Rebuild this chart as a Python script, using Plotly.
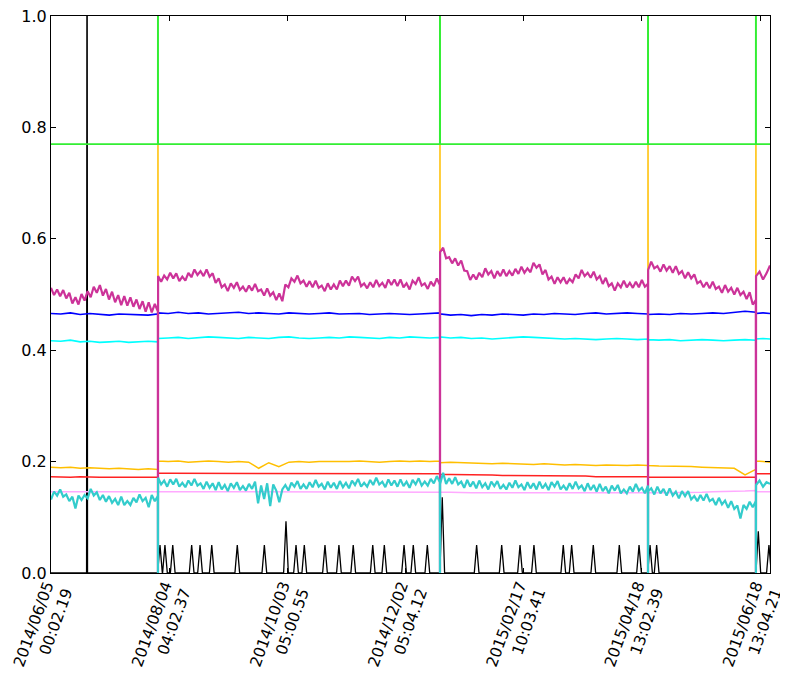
import numpy as np
import plotly.graph_objects as go

# ---------------- data (sample index axis) ----------------
SEG_BOUNDS = [(0, 904), (906, 3290), (3292, 5050), (5052, 5963), (5965, 6083)]
RESET_IDX = [905, 3291, 5051, 5964]

X_TICK_IDX = [0, 1000, 2000, 3000, 4000, 5000, 6000]
X_TICK_TEXT = ["2014/06/05<br>00:02.19", "2014/08/04<br>04:02.37", "2014/10/03<br>05:00.55",
               "2014/12/02<br>05:04.12", "2015/02/17<br>10:03.41", "2015/04/18<br>13:02.39",
               "2015/06/18<br>13:04.21"]
Y_TICKS = [0.0, 0.2, 0.4, 0.6, 0.8, 1.0]

MAGENTA_S0 = [.512, .499, .509, .497, .508, .493, .503, .484, .495, .482, .501, .489, .506, .495, .514, .503,
              .517, .498, .510, .491, .505, .486, .499, .481, .497, .480, .495, .478, .491, .474, .488, .469,
              .486, .468, .483, .470]
MAGENTA_S1 = [.533, .523, .534, .527, .539, .529, .538, .524, .532, .525, .539, .531, .545, .535, .542, .533,
              .545, .532, .538, .521, .529, .513, .518, .506, .520, .512, .522, .508, .514, .505, .516, .507,
              .519, .506, .509, .498, .511, .498, .504, .490, .502, .488, .518, .513, .529, .523, .534, .520,
              .525, .514, .524, .513, .525, .512, .516, .506, .520, .509, .518, .509, .525, .515, .525, .516,
              .532, .524, .532, .515, .520, .511, .522, .513, .526, .515, .521, .512, .527, .517, .527, .515,
              .527, .513, .520, .509, .525, .519, .531, .516, .520, .510, .523, .515, .529, .517]
MAGENTA_S2 = [.576, .584, .565, .567, .556, .565, .552, .561, .543, .542, .526, .536, .527, .539, .531, .547,
              .536, .542, .529, .542, .533, .545, .533, .542, .534, .546, .537, .550, .539, .547, .540, .557,
              .548, .554, .536, .544, .527, .532, .519, .531, .522, .531, .519, .528, .522, .536, .529, .544,
              .533, .539, .530, .541, .527, .533, .519, .530, .515, .520, .507, .520, .513, .525, .513, .521,
              .512, .523, .513, .526, .514, .519]
MAGENTA_S3 = [.544, .559, .547, .551, .541, .554, .543, .551, .539, .551, .537, .542, .529, .540, .529, .536,
              .520, .524, .513, .522, .511, .523, .510, .514, .503, .517, .505, .512, .500, .512, .499, .505,
              .492, .504, .482, .490]
MAGENTA_S4 = [.533, .541, .527, .538, .552]
MAGENTA_RESET = [0.0, 0.0, 0.0, 0.0]

TEAL_S0 = [.132, .146, .139, .150, .137, .141, .129, .137, .116, .139, .131, .140, .134, .151, .139, .145,
           .131, .140, .128, .138, .126, .133, .122, .137, .122, .129, .122, .135, .127, .141, .129, .135,
           .118, .140, .129, .138]
TEAL_S1 = [.171, .159, .166, .155, .168, .159, .169, .155, .162, .154, .166, .157, .169, .157, .161, .151,
           .164, .153, .161, .149, .163, .150, .158, .147, .161, .153, .163, .149, .156, .148, .160, .151,
           .164, .125, .157, .133, .161, .120, .159, .148, .127, .150, .158, .148, .162, .155, .165, .151,
           .159, .151, .163, .154, .167, .155, .160, .150, .164, .153, .162, .151, .165, .154, .162, .152,
           .166, .158, .169, .155, .162, .155, .167, .158, .171, .159, .164, .154, .168, .157, .166, .155,
           .168, .156, .164, .153, .167, .159, .170, .157, .164, .157, .169, .161, .174, .163]
TEAL_S2 = [.160, .180, .160, .170, .160, .172, .159, .164, .153, .167, .155, .164, .152, .166, .154, .161,
           .150, .164, .156, .165, .151, .158, .150, .162, .153, .166, .154, .159, .149, .163, .152, .161,
           .150, .164, .152, .160, .149, .163, .155, .165, .150, .157, .149, .161, .151, .164, .152, .157,
           .147, .161, .149, .158, .146, .160, .147, .155, .143, .157, .148, .158, .143, .150, .143, .155,
           .146, .160, .148, .153, .143, .157]
TEAL_S3 = [.147, .152, .141, .155, .143, .151, .139, .152, .139, .146, .134, .147, .138, .147, .132, .138,
           .129, .140, .130, .142, .129, .133, .122, .135, .123, .130, .117, .129, .115, .121, .098, .122,
           .115, .128, .118, .129]
TEAL_S4 = [.158, .166, .155, .163, .160]
TEAL_RESET = [0.0, 0.0, 0.0, 0.0]

BLUE_S0 = [.466, .465, .467, .464, .466, .465, .463, .465, .464, .464, .463, .465]
BLUE_S1 = [.467, .466, .468, .466, .467, .465, .466, .467, .468, .466, .467, .466, .465, .467, .466, .465,
           .466, .467, .465, .466, .466, .464, .465, .466, .465, .464, .465, .466, .467]
BLUE_S2 = [.465, .463, .464, .462, .464, .463, .465, .464, .463, .465, .464, .466, .465, .464, .466, .467,
           .465, .466, .467, .466, .465]
BLUE_S3 = [.464, .465, .464, .466, .465, .466, .467, .466, .468, .470, .468]
BLUE_S4 = [.466, .467, .466]
BLUE_RESET = [0.0, 0.0, 0.0, 0.0]

CYAN_S0 = [.417, .416, .418, .415, .416, .414, .415, .416, .414, .415, .416, .415]
CYAN_S1 = [.421, .422, .423, .421, .422, .424, .423, .422, .421, .423, .422, .421, .423, .424, .422, .421,
           .422, .423, .422, .424, .423, .422, .421, .423, .422, .424, .423, .422, .423]
CYAN_S2 = [.424, .422, .423, .421, .422, .420, .421, .422, .424, .423, .422, .421, .420, .421, .420, .419,
           .420, .421, .420, .419, .420]
CYAN_S3 = [.419, .418, .419, .417, .418, .419, .418, .417, .418, .419, .418]
CYAN_S4 = [.420, .421, .420]
CYAN_RESET = [0.0, 0.0, 0.0, 0.0]

GOLD_S0 = [.190, .189, .190, .188, .189, .188, .187, .188, .187, .186, .187, .186]
GOLD_S1 = [.201, .200, .201, .199, .200, .201, .200, .199, .200, .199, .188, .198, .191, .199, .200, .199,
           .200, .200, .199, .200, .201, .200, .199, .200, .201, .200, .201, .200, .201]
GOLD_S2 = [.198, .199, .198, .197, .197, .196, .197, .196, .195, .195, .196, .195, .194, .195, .194, .193,
           .194, .193, .193, .194, .193]
GOLD_S3 = [.193, .192, .192, .191, .191, .190, .189, .188, .188, .176, .186]
GOLD_S4 = [.201, .200, .199]
GOLD_RESET = [0.77, 0.77, 0.77, 0.77]

RED_S0 = [.173, .172, .172, .173, .172, .172, .172, .172, .171, .172, .172, .172]
RED_S1 = [.179, .179, .179, .179, .179, .179, .179, .179, .179, .179, .179, .179, .179, .179, .178, .179,
          .178, .178, .178, .178, .178, .178, .178, .178, .178, .178, .178, .178, .178]
RED_S2 = [.177, .177, .177, .176, .176, .176, .175, .175, .175, .175, .174, .174, .174, .174, .174, .173,
          .173, .173, .173, .173, .173]
RED_S3 = [.172, .172, .172, .172, .172, .172, .172, .172, .172, .172, .172]
RED_S4 = [.178, .178, .178]
RED_RESET = [0.0, 0.0, 0.0, 0.0]

PINK_S0 = [.146, .146, .146, .146, .146, .146, .146, .146, .146, .146, .146, .146]
PINK_S1 = [.146, .146, .146, .146, .146, .146, .146, .146, .146, .146, .146, .146, .146, .146, .146, .146,
           .146, .146, .145, .145, .145, .145, .145, .145, .145, .145, .145, .145, .145]
PINK_S2 = [.145, .145, .144, .144, .144, .144, .143, .143, .143, .143, .143, .143, .143, .143, .143, .143,
           .143, .143, .144, .144, .144]
PINK_S3 = [.144, .144, .144, .145, .145, .145, .146, .146, .147, .147, .148]
PINK_S4 = [.146, .146, .146]
PINK_RESET = [0.0, 0.0, 0.0, 0.0]

GREEN_S0 = [0.77, 0.77]
GREEN_S1 = [0.77, 0.77]
GREEN_S2 = [0.77, 0.77]
GREEN_S3 = [0.77, 0.77]
GREEN_S4 = [0.77, 0.77]
GREEN_RESET = [1.5, 1.5, 1.5, 1.5]

BLACK_SPIKE_IDX = [305, 922, 964, 1030, 1190, 1261, 1360, 1576, 1805, 1988, 2073, 2143, 2318, 2436, 2557,
                   2722, 2820, 2987, 3065, 3184, 3310, 3601, 3813, 3968, 4086, 4334, 4405, 4588, 4808,
                   4975, 5068, 5124, 5984, 6074]
BLACK_SPIKE_VAL = [1.5, .05, .05, .05, .05, .05, .05, .05, .05, .093, .05, .05, .05, .05, .05,
                   .05, .05, .05, .05, .05, .136, .05, .05, .05, .05, .05, .05, .05, .05,
                   .05, .05, .05, .075, .05]
BLACK_SPIKE_HALFWIDTH = [4] + [20] * 33


def build(segs, reset_vals):
    xs, ys = [], []
    for k, vals in enumerate(segs):
        a, b = SEG_BOUNDS[k]
        xs += list(np.linspace(a, b, len(vals)))
        ys += list(vals)
        if k < len(RESET_IDX):
            xs.append(RESET_IDX[k])
            ys.append(reset_vals[k])
    return xs, ys


def build_black():
    xs, ys = [0], [0.0]
    for c, h, w in zip(BLACK_SPIKE_IDX, BLACK_SPIKE_VAL, BLACK_SPIKE_HALFWIDTH):
        xs += [c - w, c, c + w]
        ys += [0.0, h, 0.0]
    xs.append(SEG_BOUNDS[-1][1])
    ys.append(0.0)
    return xs, ys


series = [
    ("black", *build_black(), "#000000", 1.3),
    ("gold", *build([GOLD_S0, GOLD_S1, GOLD_S2, GOLD_S3, GOLD_S4], GOLD_RESET), "#ffbf00", 1.5),
    ("red", *build([RED_S0, RED_S1, RED_S2, RED_S3, RED_S4], RED_RESET), "#ff2222", 1.5),
    ("pink", *build([PINK_S0, PINK_S1, PINK_S2, PINK_S3, PINK_S4], PINK_RESET), "#ffaaff", 1.5),
    ("blue", *build([BLUE_S0, BLUE_S1, BLUE_S2, BLUE_S3, BLUE_S4], BLUE_RESET), "#0000ff", 1.6),
    ("cyan", *build([CYAN_S0, CYAN_S1, CYAN_S2, CYAN_S3, CYAN_S4], CYAN_RESET), "#00ffff", 1.6),
    ("magenta", *build([MAGENTA_S0, MAGENTA_S1, MAGENTA_S2, MAGENTA_S3, MAGENTA_S4], MAGENTA_RESET), "#cc3399", 2.2),
    ("teal", *build([TEAL_S0, TEAL_S1, TEAL_S2, TEAL_S3, TEAL_S4], TEAL_RESET), "#33cccc", 2.2),
    ("green", *build([GREEN_S0, GREEN_S1, GREEN_S2, GREEN_S3, GREEN_S4], GREEN_RESET), "#33ee33", 1.8),
]

fig = go.Figure()
for name, xs, ys, color, w in series:
    fig.add_trace(go.Scatter(x=xs, y=ys, mode="lines", name=name,
                             line=dict(color=color, width=w), hoverinfo="skip"))

font = dict(family="DejaVu Sans", size=16, color="#000000")
xfont = dict(family="DejaVu Sans", size=15.5, color="#000000")
fig.update_layout(
    width=780, height=679,
    margin=dict(l=43, r=18, t=8, b=114),
    paper_bgcolor="white", plot_bgcolor="white",
    showlegend=False,
    font=font,
    xaxis=dict(range=[0, SEG_BOUNDS[-1][1]], tickmode="array", tickvals=X_TICK_IDX, ticktext=X_TICK_TEXT,
               tickangle=-70, ticks="inside", ticklen=5, tickcolor="#000000", showgrid=False, zeroline=False,
               showline=True, linecolor="#000000", linewidth=1, mirror="ticks", automargin=False,
               ticklabeloverflow="allow", ticklabelshift=5, tickfont=xfont),
    yaxis=dict(range=[0, 1], tickmode="array", tickvals=Y_TICKS, ticktext=[f"{v:.1f}" for v in Y_TICKS],
               ticks="inside", ticklen=5, tickcolor="#000000", showgrid=False, zeroline=False,
               showline=True, linecolor="#000000", linewidth=1, mirror="ticks", automargin=False,
               ticklabeloverflow="allow", tickfont=font),
)

fig.write_html("out.html")
